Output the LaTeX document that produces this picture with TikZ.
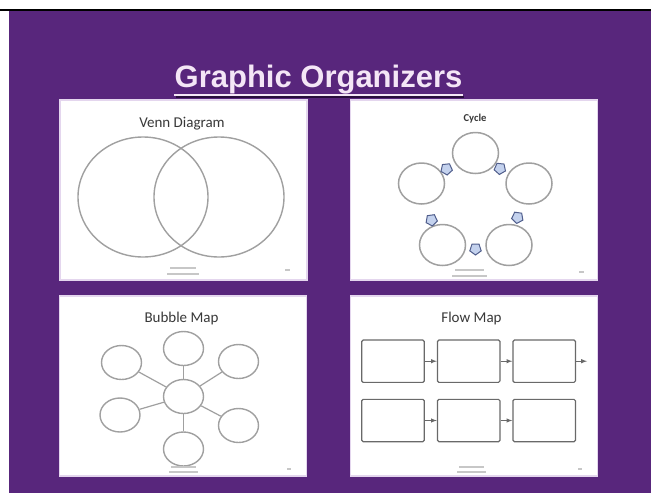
\documentclass[tikz,border=0pt]{standalone}
\usepackage{fontspec}
\setmainfont{Liberation Sans}
\newfontfamily\slidefont{Carlito}
\usetikzlibrary{shapes.geometric}
\definecolor{slidepurple}{RGB}{88,38,124}
\definecolor{titlepink}{RGB}{244,230,246}
\definecolor{titleshade}{RGB}{40,14,60}
\definecolor{panelrim}{RGB}{228,214,238}
\definecolor{penline}{RGB}{160,160,160}
\definecolor{boxline}{RGB}{105,105,105}
\definecolor{arrowfill}{RGB}{196,210,238}
\definecolor{arrowrim}{RGB}{80,94,140}

\begin{document}
\begin{tikzpicture}[x=1pt,y=-1pt,
    panel/.style={draw=panelrim,line width=1.2pt,fill=white,inner sep=0pt,
        minimum width=247pt,minimum height=180pt},
    bigtitle/.style={anchor=base,inner sep=0pt,font=\fontsize{31}{31}\selectfont\bfseries},
    paneltitle/.style={anchor=base,inner sep=0pt,text=black!78,font=\slidefont\fontsize{15}{15}\selectfont},
    venn/.style={ellipse,draw=penline,line width=1.4pt,minimum width=130pt,minimum height=120pt},
    ring/.style={ellipse,draw=penline,line width=1.5pt,minimum width=46pt,minimum height=41pt},
    bubble/.style={ellipse,draw=penline,line width=1.4pt,minimum width=40pt,minimum height=34pt},
    flowbox/.style={draw=boxline,line width=1.2pt,rounded corners=1.5pt,
        minimum width=62.6pt,minimum height=42.3pt},
    turn/.style={regular polygon,regular polygon sides=5,draw=arrowrim,fill=arrowfill,
        line width=1pt,minimum size=12pt,inner sep=0pt},
    footmark/.style={draw=black!22,line width=1.1pt}]
    \useasboundingbox (0,0) rectangle (651,493);
    \fill[white] (0,0) rectangle (651,493);
    \fill[slidepurple] (9,10) rectangle (651,493);
    \draw[black,line width=1.5pt] (0,10) -- (651,10);

    \node[bigtitle,text=titlepink] at (318.5,87.5) (Title) {Graphic Organizers};
    \draw[titleshade,line width=2.5pt] ([xshift=1.5pt,yshift=-9.5pt]Title.base west) -- ([xshift=1.5pt,yshift=-9.5pt]Title.base east);
    \draw[titlepink,line width=2.5pt] ([yshift=-7.5pt]Title.base west) -- ([yshift=-7.5pt]Title.base east);

    \node[panel] at (183.5,190) (VennPanel) {};
    \node[panel] at (474,190) (CyclePanel) {};
    \node[panel] at (183,386) (BubblePanel) {};
    \node[panel] at (474,386) (FlowPanel) {};

    \node[paneltitle] at (182,127.5) (VennTitle) {Venn Diagram};
    \node[venn] at (143,197) (SetA) {};
    \node[venn] at (219,197) (SetB) {};
    \draw[footmark] (170,268) -- (196,268) (167,274) -- (199,274) (285,270) -- (290,270);

    \node[paneltitle,font=\slidefont\fontsize{10.6}{10.6}\selectfont\bfseries] at (475,121.5) (CycleTitle) {Cycle};
    \node[ring] at (475.5,153) (CTop) {};
    \node[ring] at (421.5,183.5) (CLeft) {};
    \node[ring] at (529,183.5) (CRight) {};
    \node[ring] at (442.5,245) (CLowLeft) {};
    \node[ring] at (509,245) (CLowRight) {};
    \node[turn,rotate=-30] at (446.5,169) (TurnA) {};
    \node[turn,rotate=30] at (500,168.5) (TurnB) {};
    \node[turn,rotate=100] at (517.5,217.5) (TurnC) {};
    \node[turn,rotate=180] at (475.5,249) (TurnD) {};
    \node[turn,rotate=-100] at (431.5,220) (TurnE) {};
    \draw[footmark] (455,270) -- (484,270) (452,276) -- (487,276) (579,272) -- (584,272);

    \node[paneltitle] at (181.5,322.5) (BubbleTitle) {Bubble Map};
    \node[bubble] at (183.5,396.5) (BCen) {};
    \node[bubble] at (183.5,348.5) (BTop) {};
    \node[bubble] at (121.5,362.5) (BUpLeft) {};
    \node[bubble] at (238.5,361.5) (BUpRight) {};
    \node[bubble] at (120,415) (BLowLeft) {};
    \node[bubble] at (238.5,425.5) (BLowRight) {};
    \node[bubble] at (183.5,449) (BBottom) {};
    \draw[penline,line width=1.2pt] (BCen) -- (BTop);
    \draw[penline,line width=1.2pt] (BCen) -- (BUpLeft);
    \draw[penline,line width=1.2pt] (BCen) -- (BUpRight);
    \draw[penline,line width=1.2pt] (BCen) -- (BLowLeft);
    \draw[penline,line width=1.2pt] (BCen) -- (BLowRight);
    \draw[penline,line width=1.2pt] (BCen) -- (BBottom);
    \draw[footmark] (171,467) -- (196,467) (169,472) -- (198,472) (287,469) -- (291,469);

    \node[paneltitle] at (471.5,322.5) (FlowTitle) {Flow Map};
    \node[flowbox] at (393,361.2) (FOne) {};
    \node[flowbox] at (468.7,361.2) (FTwo) {};
    \node[flowbox] at (544.2,361.2) (FThree) {};
    \node[flowbox] at (393,420.5) (FFour) {};
    \node[flowbox] at (468.7,420.5) (FFive) {};
    \node[flowbox] at (544.2,420.5) (FSix) {};
    \coordinate (FOut) at (587,361.2);
    \draw[-latex,boxline,line width=1pt] (FOne) -- (FTwo);
    \draw[-latex,boxline,line width=1pt] (FTwo) -- (FThree);
    \draw[-latex,boxline,line width=1pt] (FThree) -- (FOut);
    \draw[-latex,boxline,line width=1pt] (FFour) -- (FFive);
    \draw[-latex,boxline,line width=1pt] (FFive) -- (FSix);
    \draw[footmark] (459,467) -- (484,467) (457,472) -- (486,472) (578,469) -- (582,469);
\end{tikzpicture}
\end{document}
